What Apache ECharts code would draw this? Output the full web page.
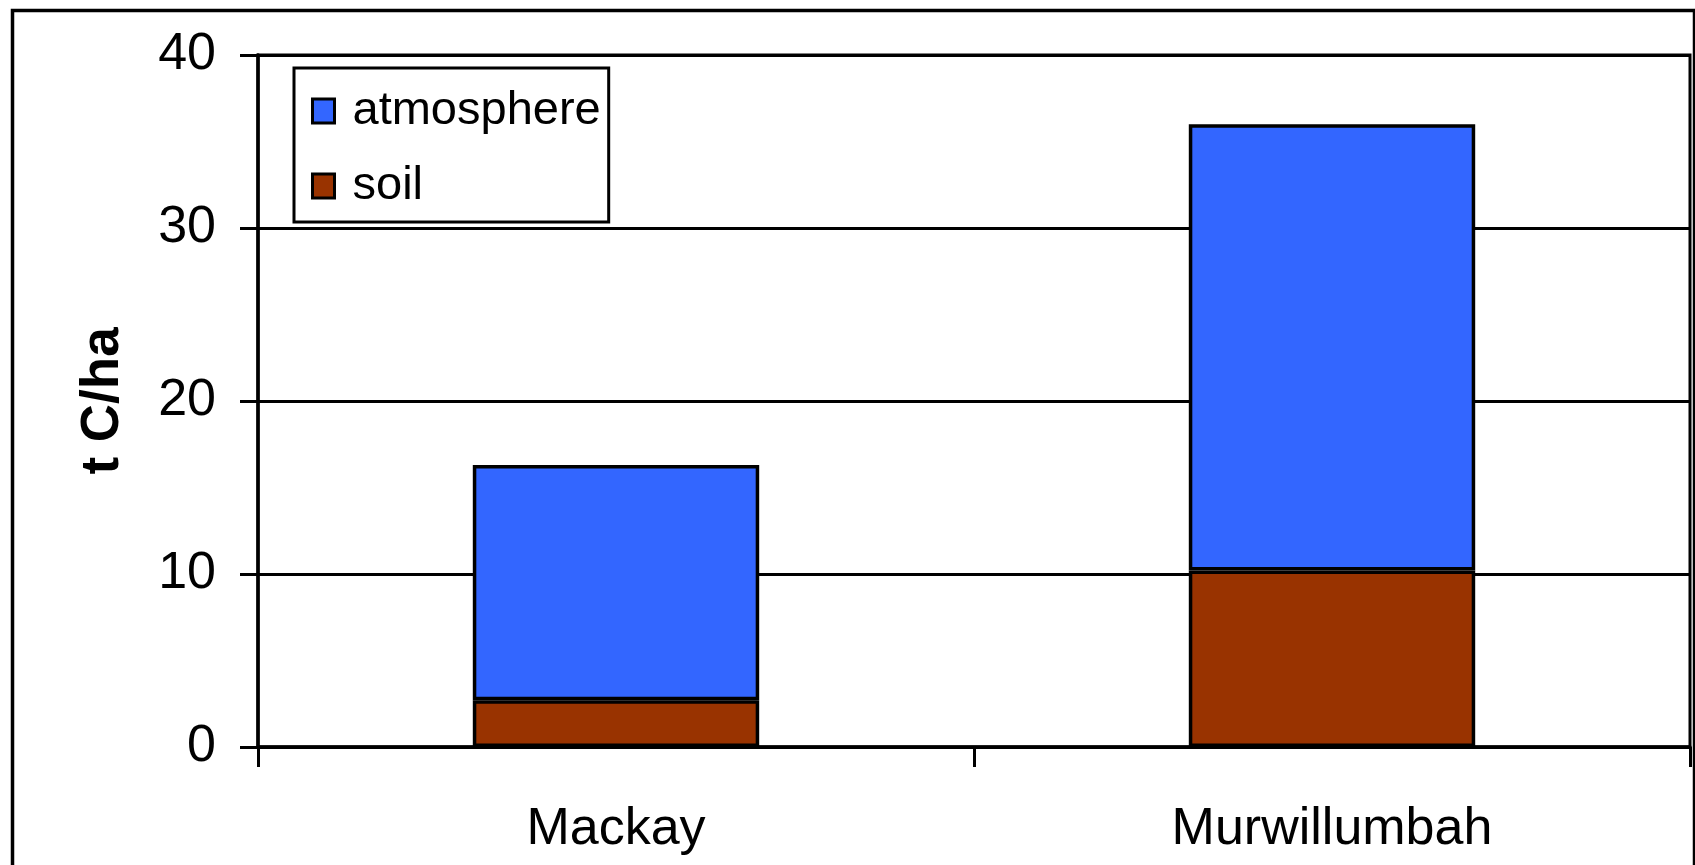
<!DOCTYPE html>
<html>
<head>
<meta charset="utf-8">
<title>t C/ha</title>
<script src="https://cdn.jsdelivr.net/npm/echarts@6/dist/echarts.min.js"></script>
<style>
  html, body { margin: 0; padding: 0; background: #fff; }
  #chart { width: 1695px; height: 865px; }
</style>
</head>
<body>
<div id="chart"></div>
<script>
// Sites on the category axis
const sites = ['Mackay', 'Murwillumbah'];
// Carbon pools, t C/ha (stacked: soil at the bottom, atmosphere on top)
const soil = [2.7, 10.2];
const atmosphere = [13.6, 25.8];
// Value axis range
const yMin = 0;
const yMax = 40;
const yStep = 10;

const FONT = "'Liberation Sans', Arial, sans-serif";
const BLUE = '#3366FF';
const BROWN = '#993300';

const chart = echarts.init(document.getElementById('chart'), null, { renderer: 'canvas' });

chart.setOption({
  backgroundColor: '#ffffff',
  animation: false,
  textStyle: { fontFamily: FONT, color: '#000' },
  graphic: [{
    type: 'rect',
    left: 10, top: 8,
    shape: { width: 1682, height: 900 },
    style: { fill: 'none', stroke: '#000', lineWidth: 3.5 },
    silent: true,
    z: 100
  }],
  grid: {
    left: 258, right: 5, top: 55, bottom: 118,
    show: true,
    borderColor: '#000',
    borderWidth: 3,
    backgroundColor: 'transparent'
  },
  legend: {
    orient: 'vertical',
    left: 294, top: 68,
    data: ['atmosphere', 'soil'],
    icon: 'rect',
    itemWidth: 22,
    itemHeight: 24,
    itemGap: 25,
    padding: [18, 8, 11, 17],
    borderColor: '#000',
    borderWidth: 3,
    backgroundColor: '#fff',
    textStyle: {
      fontFamily: FONT,
      fontSize: 47,
      color: '#000',
      lineHeight: 50,
      padding: [0, 0, 0, 13]
    },
    itemStyle: { borderColor: '#000', borderWidth: 3 }
  },
  xAxis: {
    type: 'category',
    data: sites,
    boundaryGap: true,
    axisLine: { show: true, lineStyle: { color: '#000', width: 3.5 } },
    axisTick: { show: true, inside: false, length: 20, alignWithLabel: false, lineStyle: { color: '#000', width: 3 } },
    axisLabel: { fontFamily: FONT, fontSize: 52, color: '#000', margin: 57 },
    splitLine: { show: false }
  },
  yAxis: {
    type: 'value',
    min: yMin, max: yMax, interval: yStep,
    name: 't C/ha',
    nameLocation: 'middle',
    nameGap: 128,
    nameRotate: 90,
    nameTextStyle: { fontFamily: FONT, fontSize: 53, fontWeight: 'bold', color: '#000' },
    axisLine: { show: true, lineStyle: { color: '#000', width: 3.5 } },
    axisTick: { show: true, inside: false, length: 18, lineStyle: { color: '#000', width: 3 } },
    axisLabel: { fontFamily: FONT, fontSize: 52, color: '#000', margin: 42 },
    splitLine: { show: true, lineStyle: { color: '#000', width: 3 } }
  },
  series: [
    {
      name: 'soil',
      type: 'bar',
      stack: 'pool',
      data: soil,
      barWidth: '40%',
      itemStyle: { color: BROWN, borderColor: '#000', borderWidth: 3.5 }
    },
    {
      name: 'atmosphere',
      type: 'bar',
      stack: 'pool',
      data: atmosphere,
      barWidth: '40%',
      itemStyle: { color: BLUE, borderColor: '#000', borderWidth: 3.5 }
    }
  ]
});
</script>
</body>
</html>
